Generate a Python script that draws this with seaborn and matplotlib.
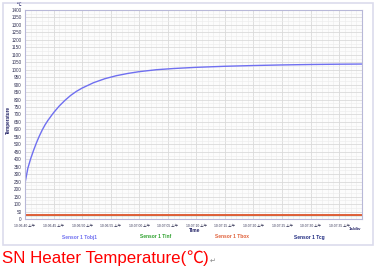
import matplotlib
matplotlib.use("Agg")
import matplotlib.pyplot as plt
import seaborn as sns
import pandas as pd
import numpy as np
from matplotlib.patches import Rectangle

sns.set_theme(style="white")
plt.rcParams['font.family'] = ['Liberation Sans', 'Noto Sans CJK SC', 'DejaVu Sans']

# Data (seconds after 10:06:40)
t_obj = [0, 0.05, 0.5, 1, 1.5, 2, 2.5, 3, 3.5, 4, 5, 6, 7, 8, 9, 10, 12, 14, 16, 18, 20,
         23, 26, 30, 35, 40, 45, 50, 55, 59]
tobj1 = [20, 250, 340, 405, 460, 510, 555, 595, 630, 660, 712, 757, 795, 828, 855, 877, 913,
         940, 960, 975, 987, 1000, 1008, 1016, 1023, 1028, 1032, 1035, 1037, 1038]
t_flat = [0, 59]
tinf = [25, 25]
tcg = [25, 25]
tbox = [25, 25]

xtick_secs = [0, 5, 10, 15, 20, 25, 30, 35, 40, 45, 50, 55]
xtick_labels = ["10:06:40 上午", "10:06:45 上午", "10:06:50 上午", "10:06:55 上午",
                "10:07:00 上午", "10:07:05 上午", "10:07:10 上午", "10:07:15 上午",
                "10:07:20 上午", "10:07:25 上午", "10:07:30 上午", "10:07:35 上午"]
series_names = ["Sensor 1 Tobj1", "Sensor 1 Tinf", "Sensor 1 Tbox", "Sensor 1 Tcg"]
series_colors = ["#6f6ff0", "#2ca02c", "#e0603a", "#1f2a80"]

fig = plt.figure(figsize=(3.75, 2.72), dpi=100)
fig.patch.set_facecolor("white")
fig.patches.append(Rectangle((3/375, 1-245/272), 370/375, 242/272, transform=fig.transFigure,
                             fill=False, edgecolor="#dcdcec", linewidth=1.2))
ax = fig.add_axes([25/375, 1-219/272, 337/375, 209/272])
ax.set_facecolor("#fcfcfc")

df_obj = pd.DataFrame({"t": t_obj, "v": tobj1})
sns.lineplot(data=df_obj, x="t", y="v", ax=ax, color=series_colors[0], linewidth=1.0,
             estimator=None, sort=False)
sns.lineplot(x=t_flat, y=tcg, ax=ax, color=series_colors[3], linewidth=0.8)
sns.lineplot(x=t_flat, y=tinf, ax=ax, color=series_colors[1], linewidth=0.8)
sns.lineplot(x=t_flat, y=tbox, ax=ax, color=series_colors[2], linewidth=1.4)

ax.set_xlim(0, 59)
ax.set_ylim(0, 1400)
ax.set_yticks(np.arange(0, 1401, 50))
ax.set_yticks(np.arange(0, 1401, 25), minor=True)
ax.set_xticks(xtick_secs)
ax.set_xticks(np.arange(0, 60, 1), minor=True)
ax.set_xticklabels(xtick_labels)
ax.tick_params(axis="y", labelsize=3.3, length=1.5, pad=1)
ax.tick_params(axis="x", labelsize=2.4, length=1.5, pad=2)
for lab in ax.get_xticklabels() + ax.get_yticklabels():
    lab.set_color("#333355")
ax.grid(True, which="major", color="#dadada", linewidth=0.6)
ax.grid(True, which="minor", color="#ebebeb", linewidth=0.4)
for s in ax.spines.values():
    s.set_color("#b8b8d8")
    s.set_linewidth(0.8)
ax.set_xlabel("")
ax.set_ylabel("")

fig.text(8/375, 1-120/272, "Temperature", rotation=90, fontsize=3.3, color="#222266",
         ha="center", va="center", fontweight="bold")
fig.text(19/375, 1-5/272, "℃", fontsize=3.3, color="#222266", ha="center", va="center",
         family=["Noto Sans CJK SC", "DejaVu Sans"])
fig.text(195/375, 1-230/272, "Time", fontsize=3.5, color="#222266", ha="center", va="center",
         fontweight="bold")
fig.text(361/375, 1-229/272, "1s/div", fontsize=3.2, color="#222266", ha="right", va="center",
         fontweight="bold")

leg_x = [80, 156, 232, 309]
for x, name, c in zip(leg_x, series_names, series_colors):
    fig.text(x/375, 1-237/272, name, fontsize=3.5, color=c, ha="center", va="center",
             fontweight="bold")

title = fig.text(2/375, 1-258/272, "SN Heater Temperature(", fontsize=12.2, color="#ff0000",
                 ha="left", va="center")
fig.canvas.draw()
x1 = title.get_window_extent().x1 / fig.bbox.width
t2 = fig.text(x1, 1-258/272, "℃", fontsize=12.2, color="#ff0000", ha="left", va="center",
              family=["Noto Sans CJK SC", "DejaVu Sans"])
fig.canvas.draw()
x2 = t2.get_window_extent().x1 / fig.bbox.width
t3 = fig.text(x2, 1-258/272, ")", fontsize=12.2, color="#ff0000", ha="left", va="center")
fig.canvas.draw()
x3 = t3.get_window_extent().x1 / fig.bbox.width
fig.text(x3 + 0.003, 1-261/272, "↵", fontsize=5, color="#888888", ha="left", va="center",
         family=["DejaVu Sans"])

fig.savefig("out.png", dpi=100)
